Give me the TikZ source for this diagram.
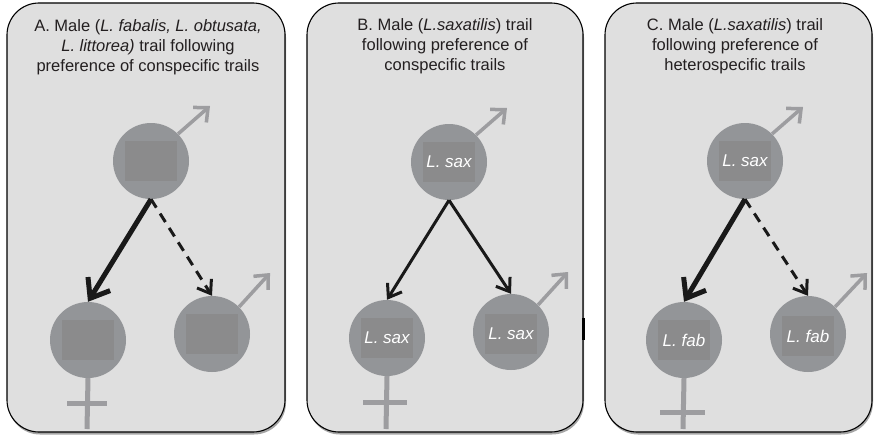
\documentclass[tikz,border=0pt]{standalone}
\usepackage{fontspec}
\setmainfont{Liberation Sans}
\usetikzlibrary{arrows.meta,shadows}
\definecolor{panelfill}{RGB}{223,223,223}
\definecolor{snailgray}{RGB}{147,149,152}
\definecolor{taggray}{RGB}{139,139,140}
\definecolor{symgray}{RGB}{157,157,160}
\definecolor{titlecol}{RGB}{35,31,32}
\tikzset{
  panel/.style={draw=black, line width=1.1pt, fill=panelfill, rounded corners=32pt,
    inner sep=0pt, drop shadow={shadow xshift=1pt, shadow yshift=-2.5pt, opacity=0.5, fill=black!70}},
  title/.style={align=center, font=\fontsize{16.5}{20}\selectfont, text=titlecol, inner sep=0pt},
  snail/.style={circle, fill=snailgray, minimum size=76pt, inner sep=0pt},
  tag/.style={rectangle, fill=taggray, minimum width=52pt, minimum height=40pt, inner sep=0pt,
    text=white, font=\fontsize{17}{20}\selectfont\itshape},
  malesym/.style={draw=symgray, line width=3.5pt, -{Straight Barb[length=11pt,width=20pt]}},
  femsym/.style={draw=symgray, line width=5pt},
  strong/.style={draw=black!90, line width=5pt, -{Straight Barb[length=17pt,width=26pt]}},
  weak/.style={draw=black!90, line width=3pt, dash pattern=on 10pt off 7pt, -{Straight Barb[length=12pt,width=17pt]}},
  medium/.style={draw=black!90, line width=3pt, -{Straight Barb[length=12pt,width=17pt]}},
}
\begin{document}
\begin{tikzpicture}[x=1pt,y=-1pt]
\useasboundingbox (0,0) rectangle (874,436);
% panels
\node[panel, minimum width=278pt, minimum height=429pt] (pA) at (146,217.5) {};
\node[panel, minimum width=276pt, minimum height=429pt] (pB) at (445,217.5) {};
\node[panel, minimum width=267pt, minimum height=429pt] (pC) at (738.5,217.5) {};
\draw[line width=3pt] (583,318) -- (583,340);
% titles
\node[title] (tA) at (148,47) {A. Male (\textit{L. fabalis, L. obtusata,}\\ \textit{L. littorea)} trail following\\ preference of conspecific trails};
\node[title] (tB) at (445,46) {B. Male (\textit{L.saxatilis}) trail\\ following preference of\\ conspecific trails};
\node[title] (tC) at (735,46) {C. Male (\textit{L.saxatilis}) trail\\ following preference of\\ heterospecific trails};
% panel A snails
\node[snail] (at) at (151,161) {};
\node[snail] (al) at (88,340) {};
\node[snail] (ar) at (212,334) {};
\node[tag] (atT) at (at) {};
\node[tag] (alT) at (al) {};
\node[tag] (arT) at (ar) {};
% panel B snails
\node[snail] (bt) at (449,162) {};
\node[snail] (bl) at (387,338) {};
\node[snail] (br) at (511,332) {};
\node[tag] (btT) at (bt) {L. sax};
\node[tag] (blT) at (bl) {L. sax};
\node[tag] (brT) at ([yshift=-2pt]br.center) {L. sax};
% panel C snails
\node[snail] (ct) at (745,161) {};
\node[snail] (cl) at (684,340) {};
\node[snail] (cr) at (808,334) {};
\node[tag] (ctT) at (ct) {L. sax};
\node[tag] (clT) at (cl) {L. fab};
\node[tag] (crT) at ([yshift=-2pt]cr.center) {L. fab};
% sex symbols: male arrows
\coordinate (atM) at (210,106);
\coordinate (arM) at (270,273);
\coordinate (btM) at (507,108);
\coordinate (brM) at (568,272);
\coordinate (ctM) at (803,107);
\coordinate (crM) at (867,273);
\draw[malesym] (at.45) -- (atM);
\draw[malesym] (ar.45) -- (arM);
\draw[malesym] (bt.45) -- (btM);
\draw[malesym] (br.45) -- (brM);
\draw[malesym] (ct.45) -- (ctM);
\draw[malesym] (cr.45) -- (crM);
% female crosses
\coordinate (alF) at (87,429);
\coordinate (blF) at (386,429);
\coordinate (clF) at (683,429);
\draw[femsym] (al.south) -- (alF);
\draw[femsym] (67,403) -- (107,403);
\draw[femsym] (bl.south) -- (blF);
\draw[femsym] (363,402) -- (407,402);
\draw[femsym] (cl.south) -- (clF);
\draw[femsym] (660,412) -- (705,412);
% trail-following arrows
\draw[strong] (at.south) -- (al.north);
\draw[weak] (at.south) -- (ar.north);
\draw[medium] (bt.south) -- (bl.north);
\draw[medium] (bt.south) -- (br.north);
\draw[strong] (ct.south) -- (cl.north);
\draw[weak] (ct.south) -- (cr.north);
\end{tikzpicture}
\end{document}
